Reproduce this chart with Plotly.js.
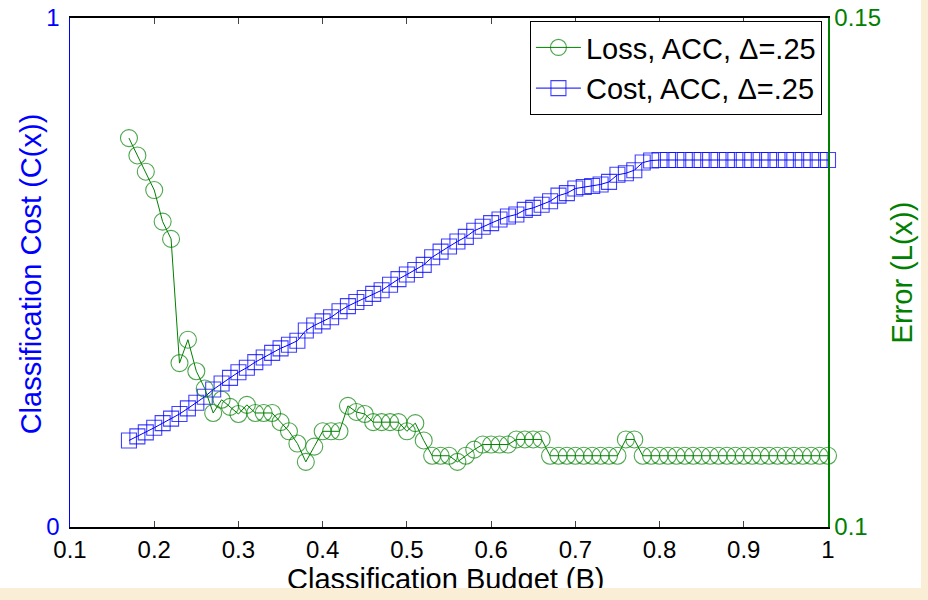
<!DOCTYPE html>
<html>
<head>
<meta charset="utf-8">
<script src="https://cdn.plot.ly/plotly-3.0.1.min.js"></script>
<style>
  html, body { margin: 0; padding: 0; background: #FAEFD6; }
  #wrap { width: 928px; height: 600px; background: #FAEFD6; position: relative; }
  #chart { width: 921px; height: 588px; overflow: hidden; background: #ffffff; }
</style>
</head>
<body>
<div id="wrap"><div id="chart"></div></div>
<script>
const budget = [0.17,0.18,0.19,0.20,0.21,0.22,0.23,0.24,0.25,0.26,0.27,0.28,0.29,0.30,0.31,0.32,0.33,0.34,0.35,0.36,0.37,0.38,0.39,0.40,0.41,0.42,0.43,0.44,0.45,0.46,0.47,0.48,0.49,0.50,0.51,0.52,0.53,0.54,0.55,0.56,0.57,0.58,0.59,0.60,0.61,0.62,0.63,0.64,0.65,0.66,0.67,0.68,0.69,0.70,0.71,0.72,0.73,0.74,0.75,0.76,0.77,0.78,0.79,0.80,0.81,0.82,0.83,0.84,0.85,0.86,0.87,0.88,0.89,0.90,0.91,0.92,0.93,0.94,0.95,0.96,0.97,0.98,0.99,1.00];

const costACC = [0.170,0.178,0.186,0.195,0.204,0.213,0.222,0.233,0.244,0.256,0.270,0.282,0.293,0.304,0.313,0.324,0.333,0.342,0.351,0.358,0.366,0.386,0.396,0.404,0.412,0.424,0.434,0.442,0.450,0.458,0.465,0.476,0.487,0.496,0.505,0.515,0.530,0.541,0.551,0.561,0.570,0.582,0.590,0.597,0.604,0.610,0.614,0.623,0.627,0.633,0.640,0.651,0.656,0.665,0.668,0.670,0.673,0.678,0.692,0.695,0.701,0.716,0.720,0.721,0.721,0.721,0.721,0.721,0.721,0.721,0.721,0.721,0.721,0.721,0.721,0.721,0.721,0.721,0.721,0.721,0.721,0.721,0.721,0.721];

const lossACC = [0.1382,0.1365,0.1349,0.1331,0.1300,0.1283,0.1161,0.1184,0.1153,0.1136,0.1112,0.1125,0.1118,0.1111,0.1120,0.1112,0.1112,0.1112,0.1103,0.1094,0.1082,0.1064,0.1079,0.1094,0.1094,0.1094,0.1119,0.1113,0.1111,0.1103,0.1103,0.1103,0.1103,0.1094,0.1102,0.1085,0.1070,0.1070,0.1070,0.1064,0.1070,0.1076,0.1081,0.1081,0.1081,0.1081,0.1086,0.1086,0.1086,0.1086,0.1070,0.1070,0.1070,0.1070,0.1070,0.1070,0.1070,0.1070,0.1070,0.1086,0.1086,0.1070,0.1070,0.1070,0.1070,0.1070,0.1070,0.1070,0.1070,0.1070,0.1070,0.1070,0.1070,0.1070,0.1070,0.1070,0.1070,0.1070,0.1070,0.1070,0.1070,0.1070,0.1070,0.1070];

const xTickVals = [0.1,0.2,0.3,0.4,0.5,0.6,0.7,0.8,0.9,1];
const xTickText = ['0.1','0.2','0.3','0.4','0.5','0.6','0.7','0.8','0.9','1'];
const yTickVals = [0,1];
const yTickText = ['0','1'];
const y2TickVals = [0.1,0.15];
const y2TickText = ['0.1','0.15'];

const seriesNames = ['Loss, ACC, \u0394=.25', 'Cost, ACC, \u0394=.25'];
const xTitle = 'Classification Budget (B)';
const yTitle = 'Classification Cost (C(x))';
const y2Title = 'Error (L(x))';

const FONT = 'Liberation Sans, Arial, Helvetica, sans-serif';
const GREEN = '#008000';
const BLUE = '#0000FF';

const data = [
  {
    x: budget, y: lossACC, yaxis: 'y2', name: seriesNames[0],
    type: 'scatter', mode: 'lines+markers', cliponaxis: false,
    line: {color: GREEN, width: 1},
    marker: {symbol: 'circle-open', size: 17, color: 'rgba(0,128,0,0.7)', line: {width: 1.1, color: 'rgba(0,128,0,0.7)'}}
  },
  {
    x: budget, y: costACC, yaxis: 'y', name: seriesNames[1],
    type: 'scatter', mode: 'lines+markers', cliponaxis: false,
    line: {color: BLUE, width: 1},
    marker: {symbol: 'square-open', size: 15, color: 'rgba(0,0,255,0.75)', line: {width: 1.1, color: 'rgba(0,0,255,0.75)'}}
  }
];

const layout = {
  width: 921, height: 588,
  margin: {l: 70, r: 93, t: 18, b: 61, pad: 0},
  paper_bgcolor: '#ffffff', plot_bgcolor: '#ffffff',
  font: {family: FONT, color: '#000'},
  showlegend: true,
  legend: {
    x: 0.992, y: 0.994, xanchor: 'right', yanchor: 'top',
    bgcolor: '#ffffff', bordercolor: '#000', borderwidth: 1,
    font: {family: FONT, size: 29, color: '#000'},
    itemwidth: 45, traceorder: 'normal'
  },
  xaxis: {
    range: [0.1, 1], tickvals: xTickVals, ticktext: xTickText,
    ticks: 'inside', ticklen: 6, tickwidth: 1, tickcolor: '#444',
    showline: true, linecolor: '#000', linewidth: 2, mirror: 'ticks',
    showgrid: false, zeroline: false,
    tickfont: {family: FONT, size: 24, color: '#000'}
  },
  yaxis: {
    range: [0, 1], tickvals: yTickVals, ticktext: yTickText,
    ticks: '', showline: true, linecolor: BLUE, linewidth: 1.5,
    showgrid: false, zeroline: false, ticklabelstandoff: 4,
    tickfont: {family: FONT, size: 24, color: BLUE}
  },
  yaxis2: {
    range: [0.1, 0.15], tickvals: y2TickVals, ticktext: y2TickText,
    overlaying: 'y', side: 'right',
    ticks: 'inside', ticklen: 8, tickwidth: 1, tickcolor: GREEN,
    showline: true, linecolor: GREEN, linewidth: 1.5,
    showgrid: false, zeroline: false,
    tickfont: {family: FONT, size: 24, color: GREEN}
  },
  annotations: [
    {text: xTitle, xref: 'paper', yref: 'paper', x: 0.496, y: -0.066, xanchor: 'center', yanchor: 'top',
     showarrow: false, font: {family: FONT, size: 29, color: '#000'}},
    {text: yTitle, xref: 'paper', yref: 'paper', x: -0.051, y: 0.497, xanchor: 'center', yanchor: 'middle',
     textangle: -90, showarrow: false, font: {family: FONT, size: 29, color: BLUE}},
    {text: y2Title, xref: 'paper', yref: 'paper', x: 1.0975, y: 0.5, xanchor: 'center', yanchor: 'middle',
     textangle: -90, showarrow: false, font: {family: FONT, size: 29, color: GREEN}}
  ]
};

Plotly.newPlot('chart', data, layout, {displayModeBar: false, staticPlot: true});
</script>
</body>
</html>
